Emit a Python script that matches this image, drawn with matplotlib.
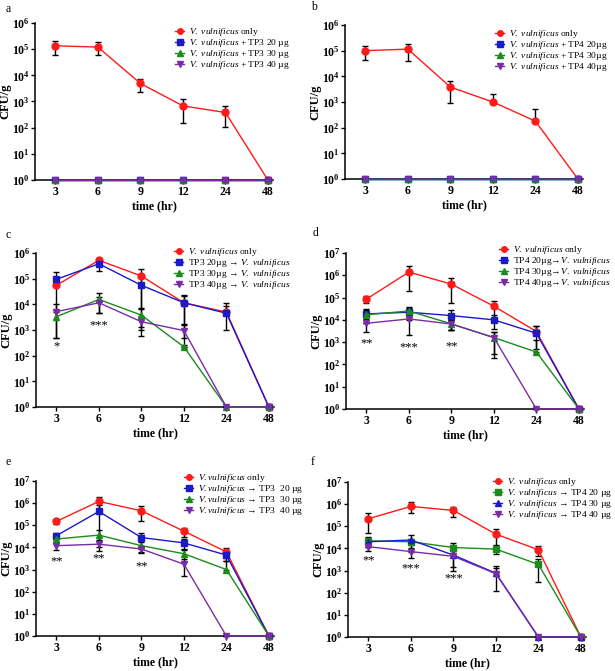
import numpy as np
import matplotlib
matplotlib.use("Agg")
import matplotlib.pyplot as plt
from matplotlib.lines import Line2D

plt.rcParams["font.family"] = ["Liberation Serif", "DejaVu Serif"]
plt.rcParams["mathtext.fontset"] = "custom"
plt.rcParams["mathtext.rm"] = "Liberation Serif"
plt.rcParams["mathtext.it"] = "Liberation Serif:italic"
plt.rcParams["mathtext.bf"] = "Liberation Serif:bold"

W, H = 615, 671

# time points (categorical x axis)
times = ["3", "6", "9", "12", "24", "48"]

VV = r"$\mathit{V.\ vulnificus}$"
VV2 = r"$\mathit{V.vulnificus}$"

# panel a: V. vulnificus + TP3
a_labels = [VV + " only", VV + " + TP3 20 µg", VV + " + TP3 30 µg", VV + " + TP3 40 µg"]
a_mean = [[1.35e5, 1.2e5, 4.9e3, 680, 380, 1],
          [1, 1, 1, 1, 1, 1],
          [1, 1, 1, 1, 1, 1],
          [1, 1, 1, 1, 1, 1]]
a_sd = [[0.75e5, 0.6e5, 2.5e3, 530, 270, 0],
        [0, 0, 0, 0, 0, 0],
        [0, 0, 0, 0, 0, 0],
        [0, 0, 0, 0, 0, 0]]

# panel b: V. vulnificus + TP4
b_labels = [VV + " only", VV + " + TP4 20µg", VV + " + TP4 30µg", VV + " + TP4 40µg"]
b_mean = [[1.0e5, 1.15e5, 3.8e3, 1.0e3, 180, 1],
          [1, 1, 1, 1, 1, 1],
          [1, 1, 1, 1, 1, 1],
          [1, 1, 1, 1, 1, 1]]
b_sd = [[0.55e5, 0.75e5, 2.9e3, 1.1e3, 360, 0],
        [0, 0, 0, 0, 0, 0],
        [0, 0, 0, 0, 0, 0],
        [0, 0, 0, 0, 0, 0]]

# panel c: TP3 pre-treatment -> V. vulnificus
c_labels = [VV + " only", "TP3 20µg → " + VV, "TP3 30µg → " + VV, "TP3 40µg → " + VV]
c_mean = [[5.5e4, 5.2e5, 1.27e5, 1.15e4, 5e3, 1],
          [9.4e4, 3.8e5, 5.5e4, 1.15e4, 4.5e3, 1],
          [3.3e3, 1.55e4, 3.8e3, 220, 1, 1],
          [5.2e3, 1.15e4, 2.1e3, 950, 1, 1]]
c_sd = [[5e4, 1e5, 1.2e5, 1.0e4, 4e3, 0],
        [9.5e4, 1.8e5, 5.4e4, 1.1e4, 7e3, 0],
        [2.8e3, 1.1e4, 2.5e3, 0, 0, 0],
        [4.7e3, 7e3, 1.5e3, 700, 0, 0]]

# panel d: TP4 pre-treatment -> V. vulnificus
d_labels = [VV + " only", "TP4 20µg→" + VV, "TP4 30µg→" + VV, "TP4 40µg→" + VV]
d_mean = [[8.5e4, 1.4e6, 4e5, 4.1e4, 3e3, 1],
          [1.85e4, 2.2e4, 1.55e4, 1e4, 2.5e3, 1],
          [1.7e4, 2.5e4, 6.6e3, 1.6e3, 360, 1],
          [7e3, 1.1e4, 6.5e3, 1.6e3, 1, 1]]
d_sd = [[3e4, 1.2e6, 3.4e5, 2.9e4, 2.5e3, 0],
        [1.1e4, 1.2e4, 1.2e4, 6e3, 3e3, 0],
        [1e4, 1.2e4, 3e3, 1.4e3, 900, 0],
        [4e3, 9e3, 3e3, 1.3e3, 0, 0]]

# panel e: V. vulnificus -> TP3 treatment
e_labels = [VV2 + " only", VV2 + " → TP3  20 µg", VV2 + " → TP3  30 µg", VV2 + " → TP3  40 µg"]
e_mean = [[1.5e5, 1.2e6, 4.5e5, 5.4e4, 6.3e3, 1],
          [3.4e4, 4.2e5, 2.8e4, 1.6e4, 4.5e3, 1],
          [2.4e4, 3.6e4, 1.2e4, 5.2e3, 1e3, 1],
          [1.2e4, 1.4e4, 8.5e3, 1.75e3, 1, 1]]
e_sd = [[4e4, 6.5e5, 3e5, 2.5e4, 3e3, 0],
        [1e4, 4e5, 1.7e4, 8e3, 2e3, 0],
        [8e3, 2.5e4, 6e3, 3e3, 1.5e3, 0],
        [4e3, 7e3, 3e3, 1.25e3, 0, 0]]

# panel f: V. vulnificus -> TP4 treatment
f_labels = [VV + " only", VV + " → TP4 20 µg", VV + " → TP4 30 µg", VV + " → TP4 40 µg"]
f_mean = [[2.2e5, 7.9e5, 5.2e5, 4.4e4, 8.7e3, 1],
          [2.2e4, 2e4, 1.1e4, 9.3e3, 1.9e3, 1],
          [2e4, 2.4e4, 5e3, 760, 1, 1],
          [1.2e4, 7.2e3, 4.4e3, 720, 1, 1]]
f_sd = [[1.7e5, 4e5, 2.5e5, 3e4, 4e3, 0],
        [1e4, 6e3, 6e3, 3.5e3, 1.6e3, 0],
        [8e3, 1.7e4, 4e3, 800, 0, 0],
        [4e3, 3.5e3, 3e3, 600, 0, 0]]

RED, BLUE, GREEN, PURPLE = "#ff1a1a", "#1a1acc", "#1a8c1a", "#7a2ca8"
style_std = [(RED, "o"), (BLUE, "s"), (GREEN, "^"), (PURPLE, "v")]
style_f = [(RED, "o"), (GREEN, "s"), (BLUE, "^"), (PURPLE, "v")]

fig = plt.figure(figsize=(W / 100, H / 100), dpi=100)


def make_axes(left, top, bottom, width=238):
    return fig.add_axes([left / W, 1 - bottom / H, width / W, (bottom - top) / H])


def draw_panel(ax, means, sds, labels, styles, ymax_exp, leg_xy, stars):
    x = np.arange(len(times))
    for m, s, lab, (col, mk) in zip(means, sds, labels, styles):
        m = np.array(m, dtype=float)
        s = np.array(s, dtype=float)
        lower = np.where(m - s > 0, s, 0)
        ax.errorbar(x, m, yerr=[lower, s], fmt="none", ecolor="black",
                    elinewidth=1.0, capsize=2.5, capthick=1.0, zorder=2, clip_on=False)
        ax.plot(x, m, color=col, lw=1.0, marker=mk, ms=5, mec=col, mfc=col,
                label=lab, zorder=3, clip_on=False)
    ax.set_yscale("log")
    ax.set_ylim(1, 10 ** ymax_exp)
    ax.set_xlim(-0.48, 5.12)
    ax.set_yticks([10 ** k for k in range(ymax_exp + 1)])
    ax.set_yticklabels([r"$\mathbf{10^{%d}}$" % k for k in range(ymax_exp + 1)])
    ax.yaxis.set_minor_locator(matplotlib.ticker.NullLocator())
    ax.set_xticks(x)
    ax.set_xticklabels(times, fontweight="bold")
    ax.tick_params(axis="both", labelsize=8.5, length=3, width=1, pad=1)
    for sp in ["top", "right"]:
        ax.spines[sp].set_visible(False)
    for sp in ["left", "bottom"]:
        ax.spines[sp].set_linewidth(1.1)
    ax.set_xlabel("time (hr)", fontsize=8.5, fontweight="bold", labelpad=2)
    ax.set_ylabel("CFU/g", fontsize=9, fontweight="bold", labelpad=0)
    handles = [Line2D([], [], color=c, marker=mk, ms=4, lw=1.0) for c, mk in styles]
    ax.legend(handles, labels, loc="upper left",
              bbox_to_anchor=(leg_xy[0] / W, 1 - leg_xy[1] / H),
              bbox_transform=fig.transFigure, frameon=False, fontsize=6.8,
              handlelength=1.0, handletextpad=0.5, labelspacing=-0.1,
              borderpad=0, borderaxespad=0)
    for xi, txt, ly in stars:
        ax.text(xi, 10 ** ly, txt, ha="center", va="center", fontsize=9)
    return ax


ax_a = make_axes(35, 23, 180)
draw_panel(ax_a, a_mean, a_sd, a_labels, style_std, 6, (175, 26), [])
ax_b = make_axes(345, 25, 179)
draw_panel(ax_b, b_mean, b_sd, b_labels, style_std, 6, (495, 28), [])
ax_c = make_axes(36, 253, 407)
draw_panel(ax_c, c_mean, c_sd, c_labels, style_std, 6, (174, 246),
           [(0, "*", 2.35), (1, "***", 3.2)])
ax_d = make_axes(346, 253, 409)
draw_panel(ax_d, d_mean, d_sd, d_labels, style_std, 7, (499, 244),
           [(0, "**", 2.95), (1, "***", 2.78), (2, "**", 2.82)])
ax_e = make_axes(36, 481, 636)
draw_panel(ax_e, e_mean, e_sd, e_labels, style_std, 7, (184, 472),
           [(0, "**", 3.38), (1, "**", 3.52), (2, "**", 3.15)])
ax_f = make_axes(348, 482, 637)
draw_panel(ax_f, f_mean, f_sd, f_labels, style_f, 7, (493, 476),
           [(0, "**", 3.47), (1, "***", 3.1), (2, "***", 2.65)])

# panel letters
for letter, px, py in [("a", 6, 9), ("b", 311, 7), ("c", 6, 235), ("d", 313, 233),
                       ("e", 6, 462), ("f", 311, 462)]:
    fig.text(px / W, 1 - py / H, letter, fontsize=8.5, ha="left", va="center")

fig.savefig("out.png", dpi=100)
